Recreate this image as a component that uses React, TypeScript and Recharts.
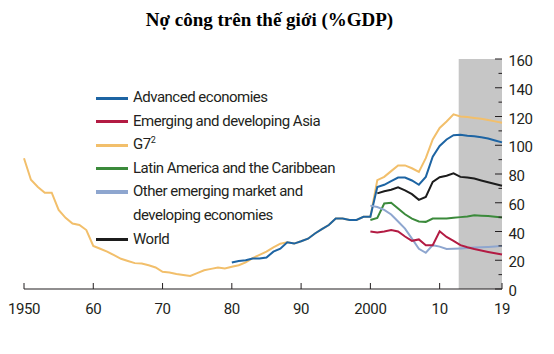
import { Line, LineChart, ReferenceArea, XAxis, YAxis } from 'recharts'

// Nợ công (%GDP), 1950–2019; phần tô xám là dự báo
const YEARS = [
    1950, 1951, 1952, 1953, 1954, 1955, 1956, 1957, 1958, 1959,
    1960, 1961, 1962, 1963, 1964, 1965, 1966, 1967, 1968, 1969,
    1970, 1971, 1972, 1973, 1974, 1975, 1976, 1977, 1978, 1979,
    1980, 1981, 1982, 1983, 1984, 1985, 1986, 1987, 1988, 1989,
    1990, 1991, 1992, 1993, 1994, 1995, 1996, 1997, 1998, 1999,
    2000, 2001, 2002, 2003, 2004, 2005, 2006, 2007, 2008, 2009,
    2010, 2011, 2012, 2013, 2014, 2015, 2016, 2017, 2018, 2019,
]

// G7, từ 1950
const G7 = [
    91, 76, 71, 67, 67, 55, 49.5, 45.5, 44.5, 41,
    30, 28, 26, 23.5, 21, 19.5, 18, 17.7, 16.5, 15,
    12, 11.5, 10.5, 9.8, 9.1, 11, 13, 14, 15, 14.3,
    15.5, 16.5, 18.5, 21.5, 23.7, 26, 29, 31.5, 32.5, 31.6,
    33.2, 35, 38.6, 41.6, 44.5, 49, 49, 48, 48, 50.2,
    50.2, 75.7, 78, 82, 86, 86, 84, 81.5, 91, 104,
    112, 116.5, 121.5, 120, 119.7, 119, 118.4, 117.6, 116.6, 115.7,
]

// Advanced economies, từ 1980
const ADVANCED = [
    18.4, 19.5, 20, 21.2, 21.2, 21.9, 26, 28, 32.5, 31.6,
    33.2, 35, 38.6, 41.6, 44.5, 49, 49, 48, 48, 50.2,
    50.2, 71, 72.5, 75, 77.5, 77.5, 75.5, 72.5, 78, 92,
    99.5, 104, 107, 107.3, 106.6, 106.2, 105.5, 104.7, 103.3, 102,
]

// các nhóm sau từ 2000
const EM_ASIA = [
    40, 39.3, 40, 41, 40, 36.5, 33.5, 34.5, 30.5, 30.5,
    40.2, 36.2, 33.5, 30.5, 29, 27.8, 26.8, 25.8, 24.9, 24,
]
const LATAM = [
    48, 49.5, 59.5, 60, 56, 52, 49, 47, 46.7, 49,
    49, 49, 49.5, 50, 50.5, 51.3, 51, 50.7, 50.2, 49.8,
]
const OTHER_EM = [
    58, 57, 55, 51.8, 47, 42, 35, 28, 25.2, 30.5,
    29.5, 27.8, 28, 28.2, 28.5, 28.8, 29, 29.3, 29.6, 30,
]
// World, từ 2001
const WORLD = [
    66.5, 68, 69, 70.7, 68.6, 66, 62, 64, 74.5,
    77.8, 78.8, 80.4, 78, 77.5, 76.8, 75.5, 74.2, 73, 71.8,
]

const X_TICKS = [1950, 1960, 1970, 1980, 1990, 2000, 2010, 2019]
const X_LABELS = ['1950', '60', '70', '80', '90', '2000', '10', '19']
const Y_TICKS = [0, 10, 20, 30, 40, 50, 60, 70, 80, 90, 100, 110, 120, 130, 140, 150, 160]
const FORECAST_FROM = 2012.75

const SERIES = [
    { key: 'advanced', name: 'Advanced economies', color: '#1d64a3', from: 1980, values: ADVANCED },
    { key: 'asia', name: 'Emerging and developing Asia', color: '#b31b43', from: 2000, values: EM_ASIA },
    { key: 'g7', name: 'G7', sup: '2', color: '#f2bf6b', from: 1950, values: G7 },
    { key: 'latam', name: 'Latin America and the Caribbean', color: '#3b8a3b', from: 2000, values: LATAM },
    { key: 'other', name: 'Other emerging market and|developing economies', color: '#8ea6cf', from: 2000, values: OTHER_EM },
    { key: 'world', name: 'World', color: '#1c1c1c', from: 2001, values: WORLD },
]
// thứ tự vẽ: G7 nằm dưới đường xanh
const DRAW_ORDER = ['g7', 'advanced', 'world', 'latam', 'other', 'asia']

const data = YEARS.map((year) => {
    const row: Record<string, number | null> = { year }
    for (const s of SERIES) {
        const v = s.values[year - s.from]
        row[s.key] = v === undefined ? null : v
    }
    return row
})

const FONT = 'Roboto, "Liberation Sans", sans-serif'
const INK = '#231f20'

function BottomTick({ x, y, payload }: any) {
    const i = X_TICKS.indexOf(payload.value)
    return (
        <g>
            <line x1={x} x2={x} y1={y} y2={y - 6} stroke={INK} />
            <text x={x} y={y + 25} textAnchor="middle" fontSize={15} fontFamily={FONT} fill={INK} letterSpacing={-0.4}>
                {X_LABELS[i]}
            </text>
        </g>
    )
}

function LeftTick({ x, y, payload }: any) {
    const major = payload.value % 20 === 0
    return <line x1={x} x2={x + (major ? 7 : 3.5)} y1={y} y2={y} stroke={INK} />
}

function RightTick({ x, y, payload }: any) {
    const major = payload.value % 20 === 0
    return (
        <g>
            <line x1={x - (major ? 7 : 3.5)} x2={x} y1={y} y2={y} stroke={INK} />
            {major && (
                <text x={x + 6.5} y={y + 7} fontSize={15} fontFamily={FONT} fill={INK} letterSpacing={-0.4}>
                    {payload.value}
                </text>
            )}
        </g>
    )
}

function LegendBox() {
    return (
        <div
            style={{
                position: 'absolute',
                left: 96,
                top: 86,
                fontFamily: FONT,
                fontSize: 15,
                letterSpacing: -0.5,
                color: INK,
                lineHeight: '23.6px',
                whiteSpace: 'nowrap',
            }}
        >
            {SERIES.map((s) => (
                <div key={s.key} style={{ display: 'flex', alignItems: 'flex-start' }}>
                    <span
                        style={{
                            display: 'inline-block',
                            width: 32,
                            height: s.key === 'other' ? 4 : 3,
                            marginTop: s.key === 'other' ? 10 : 10.5,
                            marginRight: 5,
                            background: s.color,
                        }}
                    />
                    <span>
                        {s.name.split('|').map((part, i) => (
                            <div key={i}>
                                {part}
                                {s.sup && (
                                    <sup style={{ fontSize: 9, verticalAlign: 'top', lineHeight: '14px' }}>{s.sup}</sup>
                                )}
                            </div>
                        ))}
                    </span>
                </div>
            ))}
        </div>
    )
}

export default function App() {
    return (
        <div style={{ position: 'absolute', left: 0, top: 0, width: 554, height: 354, background: '#fff' }}>
            <div
                style={{
                    position: 'absolute',
                    top: 10,
                    left: 0,
                    width: 539,
                    textAlign: 'center',
                    fontFamily: '"Liberation Serif", "Times New Roman", serif',
                    fontWeight: 'bold',
                    fontSize: 19,
                    lineHeight: '19px',
                    color: '#000',
                }}
            >
                Nợ công trên thế giới (%GDP)
            </div>
            <LineChart
                width={554}
                height={354}
                data={data}
                margin={{ top: 59, right: 0, bottom: 35, left: 24 }}
                style={{ position: 'absolute', left: 0, top: 0 }}
            >
                <XAxis
                    dataKey="year"
                    type="number"
                    domain={[1950, 2019]}
                    ticks={X_TICKS}
                    interval={0}
                    height={30}
                    tickSize={0}
                    tickMargin={0}
                    tickLine={false}
                    axisLine={{ stroke: INK, strokeWidth: 1.2 }}
                    tick={<BottomTick />}
                />
                <YAxis
                    yAxisId="left"
                    orientation="left"
                    width={0}
                    domain={[0, 160]}
                    ticks={Y_TICKS}
                    interval={0}
                    tickSize={0}
                    tickMargin={0}
                    tickLine={false}
                    axisLine={false}
                    tick={<LeftTick />}
                />
                <YAxis
                    yAxisId="right"
                    orientation="right"
                    width={52}
                    domain={[0, 160]}
                    ticks={Y_TICKS}
                    interval={0}
                    tickSize={0}
                    tickMargin={0}
                    tickLine={false}
                    axisLine={false}
                    tick={<RightTick />}
                />
                <ReferenceArea
                    yAxisId="right"
                    x1={FORECAST_FROM}
                    x2={2019}
                    y1={0}
                    y2={160}
                    fill="#c6c6c6"
                    fillOpacity={1}
                    stroke="none"
                />
                {DRAW_ORDER.map((key) => {
                    const s = SERIES.find((it) => it.key === key)!
                    return (
                        <Line
                            key={key}
                            yAxisId="right"
                            type="linear"
                            dataKey={key}
                            name={s.name}
                            stroke={s.color}
                            strokeWidth={2}
                            dot={false}
                            activeDot={false}
                            isAnimationActive={false}
                        />
                    )
                })}
            </LineChart>
            <LegendBox />
        </div>
    )
}
